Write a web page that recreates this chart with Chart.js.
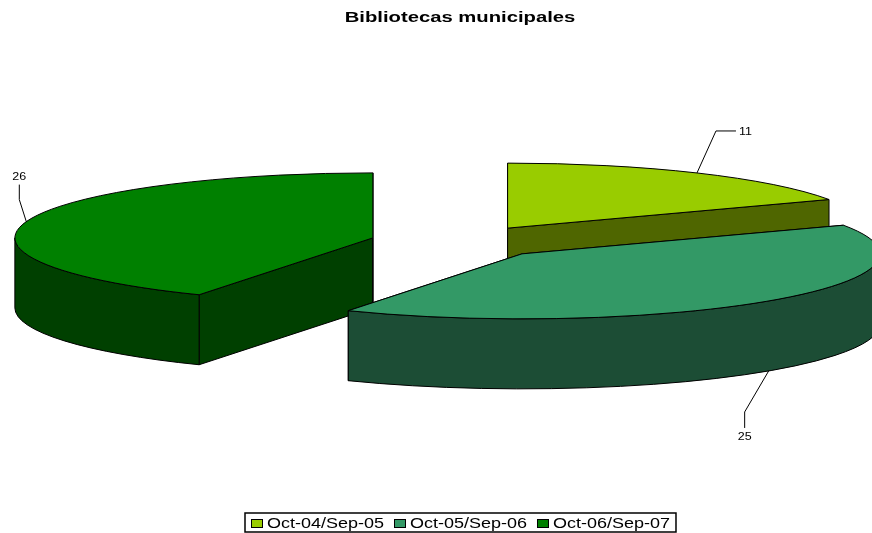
<!DOCTYPE html>
<html>
<head>
<meta charset="utf-8">
<style>html,body{margin:0;padding:0;background:#fff}#w{width:872px;height:533px}</style>
<script src="https://cdn.jsdelivr.net/npm/chart.js@4"></script>
</head>
<body>
<div id="w"><canvas id="c"></canvas></div>
<script>
const chartTitle = 'Bibliotecas municipales';
const categories = ['Oct-04/Sep-05', 'Oct-05/Sep-06', 'Oct-06/Sep-07'];
const values = [11, 25, 26];
const topColors = ['#99CC00', '#339966', '#008000'];
const wallColors = ['#4F6600', '#1C4D35', '#004000'];

const FONT = '"Liberation Sans", Arial, sans-serif';
const TILT = 0.1816, DEPTH = 70, EXPLODE = 90, STRETCH = 1.285;
const PAINT_ORDER = [0, 2, 1];
// leader geometry relative to the slice's outer-edge midpoint
const LEADERS = [
  {elbow: [19, -42], end: [39, -42], text: [42, -41], align: 'left'},
  {elbow: [-24, 41], end: [-24, 57], text: [-24, 66], align: 'center'},
  {elbow: [-7, -22], end: [-7, -37], text: [-7, -44], align: 'center'}
];

function stretchedText(ctx, text, x, y, align, font, sx) {
  ctx.save();
  ctx.font = font; ctx.fillStyle = '#000'; ctx.textAlign = align; ctx.textBaseline = 'middle';
  ctx.translate(x, y); ctx.scale(sx, 1);
  ctx.fillText(text, 0, 0);
  ctx.restore();
}

const pie3d = {
  id: 'pie3d',
  afterLayout(chart) {
    if (chart.$wrapped) return;
    chart.$wrapped = true;
    const ctx = chart.ctx, tb = chart.titleBlock, drawT = tb.draw.bind(tb);
    tb.draw = function () {
      const cx0 = (tb.left + tb.right) / 2, a = chart.getDatasetMeta(0).data[0];
      ctx.save();
      ctx.translate(a.x, 0); ctx.scale(1.35, 1); ctx.translate(-cx0, 0);
      drawT();
      ctx.restore();
    };
    const lg = chart.legend;
    lg.draw = function () {
      const a = chart.getDatasetMeta(0).data[0];
      const font = '14px ' + FONT;
      ctx.save();
      ctx.font = font;
      const widths = lg.legendItems.map(i => ctx.measureText(i.text).width * STRETCH);
      const gap = 10;
      const total = widths.reduce((s, w) => s + w + 16, 0) + gap * (widths.length - 1) + 12;
      const left = Math.round(a.x - total / 2), top = chart.height - 20;
      ctx.fillStyle = '#fff'; ctx.strokeStyle = '#000'; ctx.lineWidth = 1.5;
      ctx.fillRect(left, top, total, 19);
      ctx.strokeRect(left, top, total, 19);
      let x = left + 6;
      lg.legendItems.forEach((it, i) => {
        ctx.fillStyle = it.fillStyle; ctx.strokeStyle = '#000'; ctx.lineWidth = 1;
        ctx.fillRect(x + .5, top + 6.5, 11, 8);
        ctx.strokeRect(x + .5, top + 6.5, 11, 8);
        stretchedText(ctx, it.text, x + 16, top + 11, 'left', font, STRETCH);
        x += 16 + widths[i] + gap;
      });
      ctx.restore();
    };
  },
  beforeDatasetDraw() { return false; },
  afterDatasetsDraw(chart) {
    const ctx = chart.ctx, arcs = chart.getDatasetMeta(0).data;
    const K = TILT;
    PAINT_ORDER.forEach(i => {
      const arc = arcs[i], s = arc.startAngle, e = arc.endAngle, R = arc.outerRadius;
      const mid = (s + e) / 2;
      const x = arc.x + Math.cos(mid) * EXPLODE, y = arc.y + Math.sin(mid) * EXPLODE * K;
      const px = t => x + Math.cos(t) * R, py = t => y + Math.sin(t) * R * K;
      ctx.save();
      ctx.lineWidth = 1; ctx.strokeStyle = '#000'; ctx.lineJoin = 'round';
      ctx.fillStyle = wallColors[i];
      // radial faces
      [s, e].forEach(t => {
        ctx.beginPath();
        ctx.moveTo(x, y); ctx.lineTo(px(t), py(t));
        ctx.lineTo(px(t), py(t) + DEPTH); ctx.lineTo(x, y + DEPTH);
        ctx.closePath(); ctx.fill(); ctx.stroke();
      });
      // outer wall (front half of the rim)
      const a0 = Math.max(s, 0), a1 = Math.min(e, Math.PI);
      if (a1 > a0) {
        ctx.beginPath();
        ctx.ellipse(x, y, R, R * K, 0, a0, a1, false);
        ctx.lineTo(px(a1), py(a1) + DEPTH);
        ctx.ellipse(x, y + DEPTH, R, R * K, 0, a1, a0, true);
        ctx.closePath(); ctx.fill(); ctx.stroke();
      }
      // top face: the library's own arc, squashed
      ctx.save();
      ctx.translate(x, y); ctx.scale(1, K); ctx.translate(-arc.x, -arc.y);
      arc.draw(ctx);
      ctx.restore();
      ctx.beginPath();
      ctx.moveTo(x, y);
      ctx.ellipse(x, y, R, R * K, 0, s, e, false);
      ctx.closePath(); ctx.stroke();
      ctx.restore();
    });
    // leaders and value labels
    arcs.forEach((arc, i) => {
      const mid = (arc.startAngle + arc.endAngle) / 2, R = arc.outerRadius;
      const x = arc.x + Math.cos(mid) * EXPLODE, y = arc.y + Math.sin(mid) * EXPLODE * K;
      const sx = x + Math.cos(mid) * R;
      const sy = y + Math.sin(mid) * R * K + (Math.sin(mid) > 0 ? DEPTH : 0);
      const L = LEADERS[i];
      ctx.save();
      ctx.strokeStyle = '#000'; ctx.lineWidth = 1;
      ctx.beginPath();
      ctx.moveTo(sx, sy);
      ctx.lineTo(sx + L.elbow[0], sy + L.elbow[1]);
      ctx.lineTo(sx + L.end[0], sy + L.end[1]);
      ctx.stroke();
      ctx.restore();
      stretchedText(ctx, String(values[i]), sx + L.text[0], sy + L.text[1], L.align, '10px ' + FONT, 1.25);
    });
  }
};

new Chart(document.getElementById('c'), {
  type: 'pie',
  data: {
    labels: categories,
    datasets: [{data: values, backgroundColor: topColors, borderWidth: 0, radius: 358, clip: false}]
  },
  plugins: [pie3d],
  options: {
    responsive: true,
    maintainAspectRatio: false,
    animation: false,
    events: [],
    layout: {padding: {left: 48, bottom: 51}},
    plugins: {
      title: {display: true, text: chartTitle, color: '#000',
        font: {family: FONT, size: 15, weight: 'bold'}, padding: {top: 9, bottom: 9}},
      legend: {display: true, position: 'bottom',
        labels: {font: {family: FONT, size: 14}, color: '#000', boxWidth: 8, boxHeight: 8, padding: 10}},
      tooltip: {enabled: false}
    }
  }
});
</script>
</body>
</html>
